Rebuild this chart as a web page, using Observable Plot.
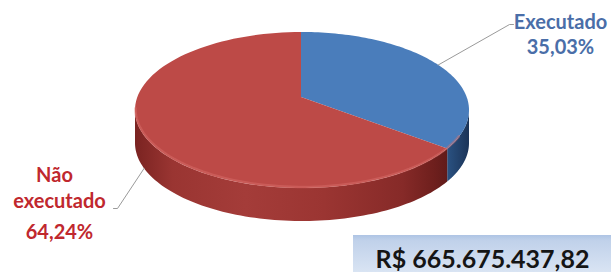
<!DOCTYPE html>
<html>
<head>
<meta charset="utf-8">
<script src="https://cdn.jsdelivr.net/npm/d3@7"></script>
<script src="https://cdn.jsdelivr.net/npm/@observablehq/plot@0.6"></script>
<style>
  html, body { margin: 0; padding: 0; background: #ffffff; }
  #chart { width: 611px; height: 272px; }
</style>
</head>
<body>
<div id="chart"></div>
<script>
// ---- data ----
const categories = ["Executado", "Não executado"];
const percentages = [35.03, 64.24];
const percentLabels = ["35,03%", "64,24%"];
const totalLabel = "R$ 665.675.437,82";

// ---- layout (pixels) ----
const W = 611, H = 272;
const cx = 302, cy = 110, rx = 167, ry = 78, depth = 33;
const apex = {x: 301, y: 97};
const topColors = ["#4a7dbb", "#bd4a47"];
const sideFills = ["url(#sideBlue)", "url(#sideRed)"];
const labelColors = ["#4a6ea8", "#c0282e"];

const sum = d3.sum(percentages);
const angles = [];
{ let a = 0; percentages.forEach((p, i) => { const b = a + p / sum * 2 * Math.PI; angles.push([a, b]); a = b; }); }

// perspective: ray from apex in direction of angle t, intersected with the rim ellipse
function pt(t, dz = 0) {
  const dx = rx * Math.sin(t), dy = -ry * Math.cos(t);
  const ox = (apex.x - cx) / rx, oy = (apex.y - cy) / ry;
  const ux = dx / rx, uy = dy / ry;
  const A = ux * ux + uy * uy, B = 2 * (ox * ux + oy * uy), C = ox * ox + oy * oy - 1;
  const s = (-B + Math.sqrt(B * B - 4 * A * C)) / (2 * A);
  return {x: apex.x + dx * s, y: apex.y + dy * s + dz};
}
const steps = (a, b, n = 90) => d3.range(n + 1).map(i => a + (b - a) * i / n);

// parameter where the rim is rightmost/leftmost (for side wall visibility)
const tRight = d3.maxIndex(steps(0, Math.PI, 720), t => pt(t).x) / 720 * Math.PI;
const tLeft = Math.PI + d3.minIndex(steps(Math.PI, 2 * Math.PI, 720), t => pt(t).x) / 720 * Math.PI;

// top face sectors
const topData = [];
categories.forEach((c, i) => {
  const [a, b] = angles[i];
  steps(a, b).forEach(t => { const p = pt(t); topData.push({c, i, x1: p.x, y1: p.y, x2: apex.x, y2: apex.y}); });
});

// side walls (front half only)
const sideData = [];
categories.forEach((c, i) => {
  const a = Math.max(angles[i][0], tRight), b = Math.min(angles[i][1], tLeft);
  if (b <= a) return;
  steps(a, b).forEach(t => { const p = pt(t); sideData.push({c, i, x: p.x, yt: p.y, yb: p.y + depth}); });
});

// rim highlight along the front top edge
const rimData = steps(Math.PI * 0.66, Math.PI * 1.45, 80).map(t => { const p = pt(t, -1.5); return {x: p.x, y: p.y}; });

// leader lines
const e0 = pt(angles[0][0] + 1.1);
const n0 = pt(angles[1][0] + 2.02, depth);
const leaders = [
  {c: "Executado", x: e0.x, y: e0.y}, {c: "Executado", x: 509, y: 24}, {c: "Executado", x: 513, y: 24},
  {c: "Não executado", x: n0.x, y: n0.y}, {c: "Não executado", x: 117, y: 208}, {c: "Não executado", x: 113, y: 208}
];

const labels = [
  {t: categories[0], x: 560, y: 22, i: 0},
  {t: percentLabels[0], x: 560, y: 47, i: 0},
  {t: "Não", x: 54, y: 175, i: 1},
  {t: "executado", x: 59, y: 201, i: 1},
  {t: percentLabels[1], x: 59, y: 232, i: 1}
];

const box = [{x1: 353, x2: 611, y1: 235, y2: 272, t: totalLabel}];

const plot = Plot.plot({
  width: W, height: H,
  margin: 0,
  x: {domain: [0, W], range: [0, W], axis: null},
  y: {domain: [0, H], range: [0, H], axis: null},
  style: {background: "#ffffff", overflow: "visible"},
  marks: [
    Plot.area(sideData, {x1: "x", y1: "yt", x2: "x", y2: "yb", z: "c", fill: d => sideFills[d.i], curve: "linear"}),
    Plot.area(topData, {x1: "x1", y1: "y1", x2: "x2", y2: "y2", z: "c", fill: d => topColors[d.i], curve: "linear"}),
    Plot.line(rimData, {x: "x", y: "y", stroke: "#d9706c", strokeWidth: 2.5, strokeOpacity: 0.45}),
    Plot.line(leaders, {x: "x", y: "y", z: "c", stroke: "#9a9a9a", strokeWidth: 1}),
    Plot.text(labels, {x: "x", y: "y", text: "t", fill: d => labelColors[d.i], fontSize: 20, fontWeight: "bold", fontFamily: "Lato", textAnchor: "middle"}),
    Plot.rect(box, {x1: "x1", x2: "x2", y1: "y1", y2: "y2", fill: "url(#boxGrad)"}),
    Plot.text(box, {x: d => (d.x1 + d.x2) / 2, y: 259, text: "t", fill: "#151515", fontSize: 25, fontWeight: "bold", fontFamily: "Lato", textAnchor: "middle"})
  ]
});

// gradients
const svg = d3.select(plot);
const defs = svg.insert("defs", ":first-child");
function grad(id, stops, x1, x2, y1 = 0, y2 = 0, units = "userSpaceOnUse") {
  const g = defs.append("linearGradient").attr("id", id).attr("gradientUnits", units)
    .attr("x1", x1).attr("x2", x2).attr("y1", y1).attr("y2", y2);
  stops.forEach(([o, c]) => g.append("stop").attr("offset", o).attr("stop-color", c));
}
grad("sideRed", [[0, "#7a2321"], [0.12, "#9a3532"], [0.35, "#a43c39"], [0.6, "#9b3532"], [0.85, "#862a28"], [0.95, "#6e1f1d"], [1, "#5e1a19"]], cx - rx, 450);
grad("sideBlue", [[0, "#2c5586"], [1, "#1b3458"]], 445, cx + rx);
grad("boxGrad", [[0, "#aec4e4"], [0.15, "#c0d1ea"], [1, "#d9e4f3"]], 0, 0, 0, 1, "objectBoundingBox");

document.getElementById("chart").appendChild(plot);
</script>
</body>
</html>
